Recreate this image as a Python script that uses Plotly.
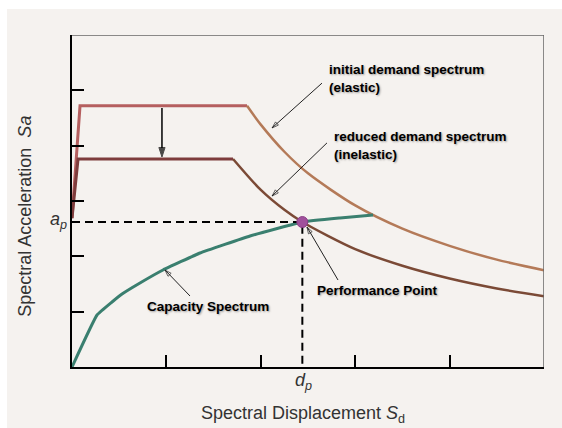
import plotly.graph_objects as go

# ---- data (axis units: x 0..5, y 0..6) ----
elastic_sd = [0.0, 0.085, 1.854, 2.0, 2.25, 2.5, 3.0, 3.5, 4.0, 4.5, 5.0]
elastic_sa = [2.69, 4.72, 4.72, 4.38, 3.89, 3.50, 2.92, 2.50, 2.19, 1.94, 1.75]

inelastic_sd = [0.0, 0.064, 1.706, 2.0, 2.25, 2.44, 3.0, 3.5, 4.0, 4.5, 5.0]
inelastic_sa = [2.69, 3.76, 3.76, 3.20, 2.84, 2.62, 2.13, 1.83, 1.60, 1.42, 1.28]

capacity_sd = [0.0, 0.265, 0.424, 0.530, 0.720, 0.964, 1.356, 1.886, 2.44, 2.839, 3.189]
capacity_sa = [0.0, 0.94, 1.175, 1.319, 1.518, 1.753, 2.06, 2.368, 2.62, 2.693, 2.747]

perf_sd = [2.44]
perf_sa = [2.62]

x_ticks = [1, 2, 3, 4]
y_ticks = [1, 2, 3, 4, 5]
x_max = 5
y_max = 6

BG = "#f5f2ef"
fig = go.Figure()

# elastic spectrum: rising + plateau (red) and descending branch (light brown)
fig.add_trace(go.Scatter(x=elastic_sd[:3], y=elastic_sa[:3], mode="lines",
                         line=dict(color="#b55f5f", width=3), hoverinfo="skip"))
fig.add_trace(go.Scatter(x=elastic_sd[2:], y=elastic_sa[2:], mode="lines",
                         line=dict(color="#b47a58", width=2.5, shape="spline", smoothing=0.8),
                         hoverinfo="skip"))
# inelastic spectrum
fig.add_trace(go.Scatter(x=inelastic_sd[:3], y=inelastic_sa[:3], mode="lines",
                         line=dict(color="#7e3c3c", width=3), hoverinfo="skip"))
fig.add_trace(go.Scatter(x=inelastic_sd[2:], y=inelastic_sa[2:], mode="lines",
                         line=dict(color="#7b4a36", width=2.5, shape="spline", smoothing=0.8),
                         hoverinfo="skip"))
# capacity spectrum
fig.add_trace(go.Scatter(x=capacity_sd, y=capacity_sa, mode="lines",
                         line=dict(color="#3a7f6f", width=3, shape="spline", smoothing=0.3),
                         hoverinfo="skip"))
# dashed guide lines to performance point
fig.add_trace(go.Scatter(x=[0, perf_sd[0], perf_sd[0]], y=[perf_sa[0], perf_sa[0], 0],
                         mode="lines", line=dict(color="black", width=2, dash="8px,5px"),
                         hoverinfo="skip"))
# performance point
fig.add_trace(go.Scatter(x=perf_sd, y=perf_sa, mode="markers",
                         marker=dict(color="#a0509c", size=11,
                                     line=dict(color="#8a3f86", width=1)),
                         hoverinfo="skip"))

# frame top/right (grey)
fig.add_shape(type="line", x0=0, y0=y_max, x1=x_max, y1=y_max, line=dict(color="#666", width=1.5))
fig.add_shape(type="line", x0=x_max, y0=0, x1=x_max, y1=y_max, line=dict(color="#666", width=1.5))


def pointer(tail, head, width=1.0, symbol="arrow-open", size=7, color="#222"):
    fig.add_trace(go.Scatter(
        x=[tail[0], head[0]], y=[tail[1], head[1]], mode="lines+markers",
        line=dict(color=color, width=width),
        marker=dict(symbol=["circle", symbol], size=[0, size], color=color,
                    angleref="previous", line=dict(color=color, width=1)),
        hoverinfo="skip"))

pointer((2.648, 5.13), (2.119, 4.32))
pointer((2.701, 4.05), (2.119, 3.09))
pointer((2.818, 1.572), (2.489, 2.53))
pointer((1.25, 1.283), (0.985, 1.753))
pointer((0.953, 4.68), (0.953, 3.795), width=1.5, symbol="arrow", size=10, color="black")

lab_font = dict(family="Arial, Liberation Sans, sans-serif", size=13.5, color="black",
                weight="bold", shadow="1px 1px 2px rgba(0,0,0,0.35)")

def label(text, x, y):
    fig.add_annotation(x=x, y=y, text=text, showarrow=False, xanchor="left",
                       yanchor="middle", align="left", font=lab_font)

label("initial demand spectrum<br>(elastic)", 2.70, 5.22)
label("reduced demand spectrum<br>(inelastic)", 2.754, 4.01)
label("Performance Point", 2.574, 1.39)
label("Capacity Spectrum", 0.773, 1.10)

ax_font = dict(family="Arial, Liberation Sans, sans-serif", size=18, color="#333")

def paper_text(text, px, py, xanchor="center", **kw):
    # px, py given in data units, converted to paper fractions
    fig.add_annotation(x=px / x_max, y=py / y_max, xref="paper", yref="paper",
                       text=text, showarrow=False, font=ax_font,
                       xanchor=xanchor, yanchor="middle", **kw)

paper_text("Spectral Acceleration  <i>Sa</i>", -0.50, 2.73, textangle=-90)
paper_text("Spectral Displacement <i>S</i><sub>d</sub>", 2.447, -0.85)
paper_text("<i>a</i><sub><i>p</i></sub>", -0.03, 2.64, xanchor="right")
paper_text("<i>d</i><sub><i>p</i></sub>", 2.45, -0.26)

fig.update_layout(
    width=555, height=419,
    margin=dict(l=65, r=18, t=26, b=61),
    paper_bgcolor=BG, plot_bgcolor=BG,
    showlegend=False,
    xaxis=dict(range=[0, x_max], showgrid=False, zeroline=False, showline=True,
               linecolor="black", linewidth=2, ticks="inside", ticklen=12,
               tickwidth=2, tickcolor="black", tickvals=x_ticks, showticklabels=False),
    yaxis=dict(range=[0, y_max], showgrid=False, zeroline=False, showline=True,
               linecolor="black", linewidth=2, ticks="inside", ticklen=12,
               tickwidth=2, tickcolor="black", tickvals=y_ticks, showticklabels=False),
)

fig.write_html("out.html", config={"displayModeBar": False},
               post_script="document.body.style.margin='9px 0 0 7px';"
                           "document.body.style.overflow='hidden';"
                           "document.documentElement.style.overflow='hidden';")
